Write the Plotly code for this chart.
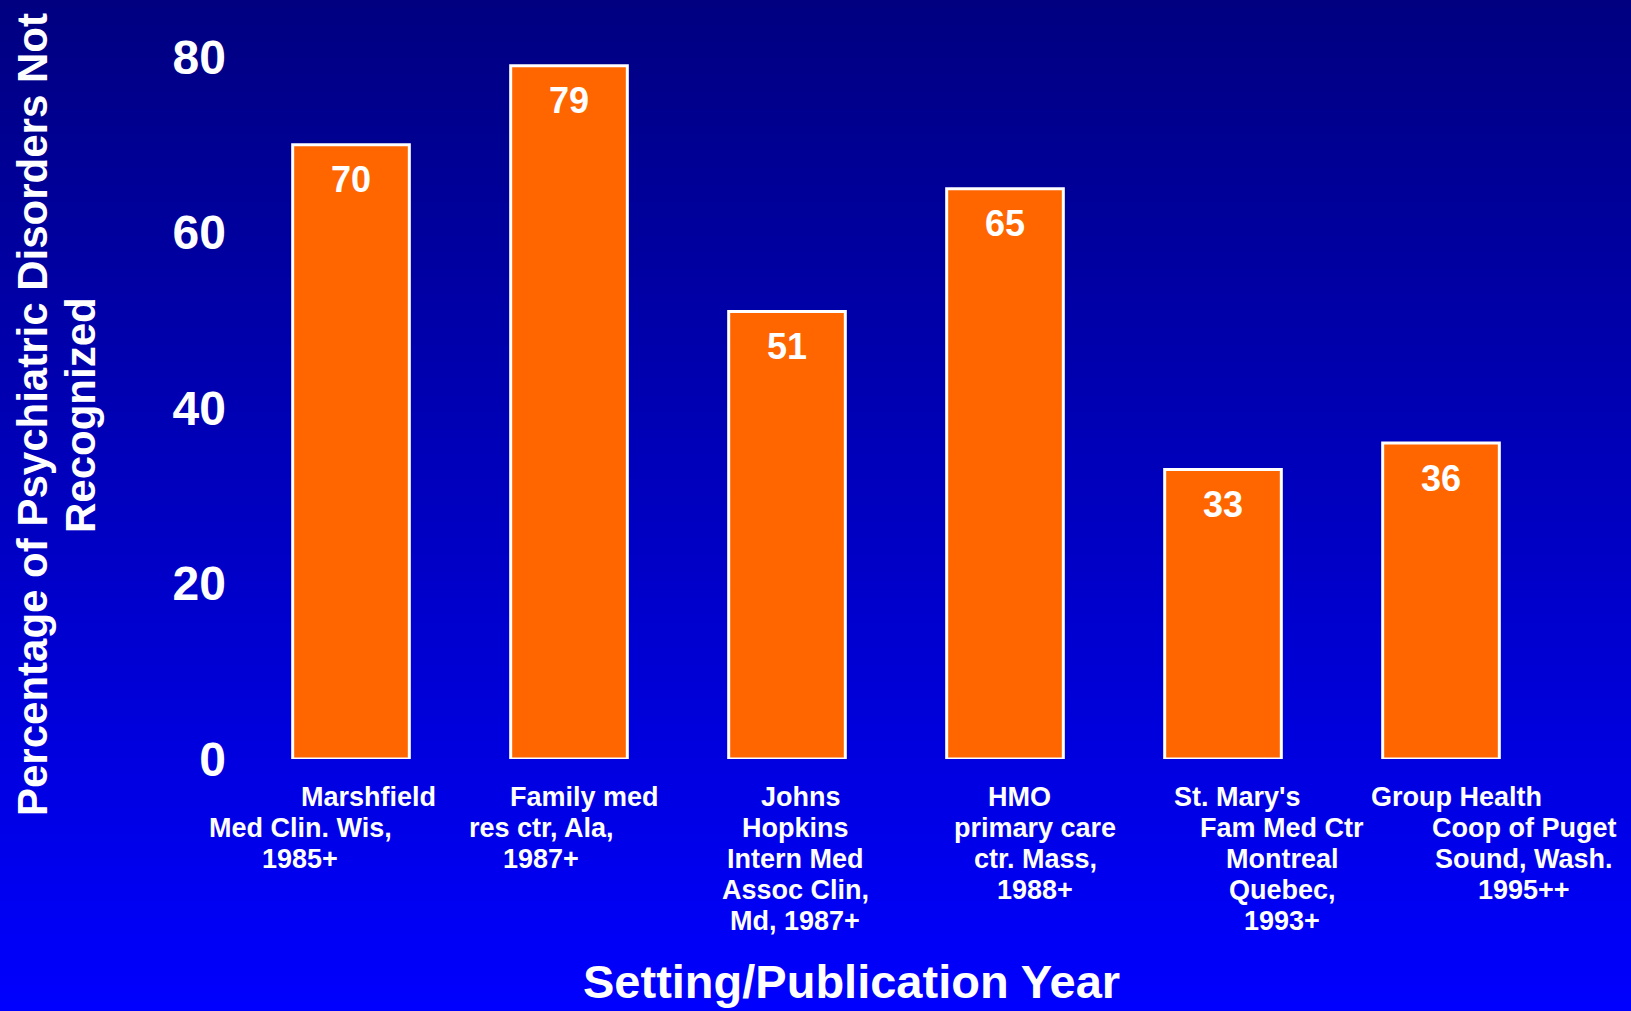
import plotly.graph_objects as go

# ---- data ----
categories = ["Marshfield", "Family med", "Johns Hopkins", "HMO", "St. Mary's", "Group Health"]
values = [70, 79, 51, 65, 33, 36]
label_lines = [
    ["Marshfield", "Med Clin. Wis,", "1985+"],
    ["Family med", "res ctr, Ala,", "1987+"],
    ["Johns", "Hopkins", "Intern Med", "Assoc Clin,", "Md, 1987+"],
    ["HMO", "primary care", "ctr. Mass,", "1988+"],
    ["St. Mary's", "Fam Med Ctr", "Montreal", "Quebec,", "1993+"],
    ["Group Health", "Coop of Puget", "Sound, Wash.", "1995++"],
]
y_ticks = [0, 20, 40, 60, 80]
y_title_lines = ["Percentage of Psychiatric Disorders Not", "Recognized"]
x_title = "Setting/Publication Year"

# ---- layout (pixel geometry) ----
W, H = 1631, 1011
ML, MR, MT, MB = 242, 81, 57, 252
PW, PH = W - ML - MR, H - MT - MB
FONT = "Liberation Sans, Arial, sans-serif"
first_shift = [17, 15, 14, 14, 14, 15]
rest_shift = [-51, -28, 8, 30, 59, 83]
BASE_Y = H - MB  # pixel row of value 0

fig = go.Figure()
xs = list(range(len(categories)))
fig.add_trace(go.Bar(
    x=xs, y=values,
    marker=dict(color="#FF6600", line=dict(color="white", width=3)),
    hoverinfo="skip",
))

annotations = []
# value labels inside bars
for x, v in zip(xs, values):
    annotations.append(dict(
        x=x, y=v, xref="x", yref="y", text=str(v), showarrow=False,
        xanchor="center", yanchor="middle", yshift=-35,
        font=dict(family=FONT, size=36, color="white", weight="bold"),
    ))
# category labels
for i, lines in enumerate(label_lines):
    for k, line in enumerate(lines):
        annotations.append(dict(
            x=i, y=0, xref="x", yref="paper", text=line, showarrow=False,
            xanchor="center", yanchor="middle",
            xshift=first_shift[i] if k == 0 else rest_shift[i],
            yshift=-(38 + 31 * k),
            font=dict(family=FONT, size=27, color="white", weight="bold"),
        ))
# y-axis title (two lines)
for k, (line, xs_px) in enumerate(zip(y_title_lines, [-210, -162])):
    annotations.append(dict(
        x=0, y=0.5, xref="paper", yref="paper", text=line, showarrow=False,
        textangle=-90, xanchor="center", yanchor="middle",
        xshift=xs_px, yshift=-7,
        font=dict(family=FONT, size=42, color="white", weight="bold"),
    ))
# x-axis title
annotations.append(dict(
    x=(851 - ML) / PW, y=(BASE_Y - 981) / PH, xref="paper", yref="paper",
    text=x_title, showarrow=False, xanchor="center", yanchor="middle",
    font=dict(family=FONT, size=47, color="white", weight="bold"),
))

# background gradient strips
shapes = []
N = 120
y_top = (BASE_Y - 0) / PH
y_bot = (BASE_Y - H) / PH
for j in range(N):
    t0 = j / N
    t1 = (j + 1) / N
    tm = (j + 0.5) / N
    b = int(round(128 + 127 * tm))
    shapes.append(dict(
        type="rect", xref="paper", yref="paper",
        x0=-0.25, x1=1.1,
        y0=y_top - (y_top - y_bot) * t1 - 0.001,
        y1=y_top - (y_top - y_bot) * t0 + 0.001,
        fillcolor=f"rgb(0,0,{b})", line=dict(width=0), layer="below",
    ))

fig.update_layout(
    width=W, height=H,
    margin=dict(l=ML, r=MR, t=MT, b=MB),
    paper_bgcolor="rgb(0,0,190)",
    plot_bgcolor="rgba(0,0,0,0)",
    showlegend=False,
    bargap=0.465,
    font=dict(family=FONT, color="white"),
    xaxis=dict(range=[-0.5, 5.5], showticklabels=False, showgrid=False,
               zeroline=False, showline=False, fixedrange=True),
    yaxis=dict(range=[0, 80], tickvals=y_ticks, showgrid=False, zeroline=False,
               showline=False, ticks="", ticklabelstandoff=15,
               tickfont=dict(family=FONT, size=48, color="white", weight="bold"),
               fixedrange=True),
    annotations=annotations,
    shapes=shapes,
)

fig.write_html("out.html", config={"displayModeBar": False})
